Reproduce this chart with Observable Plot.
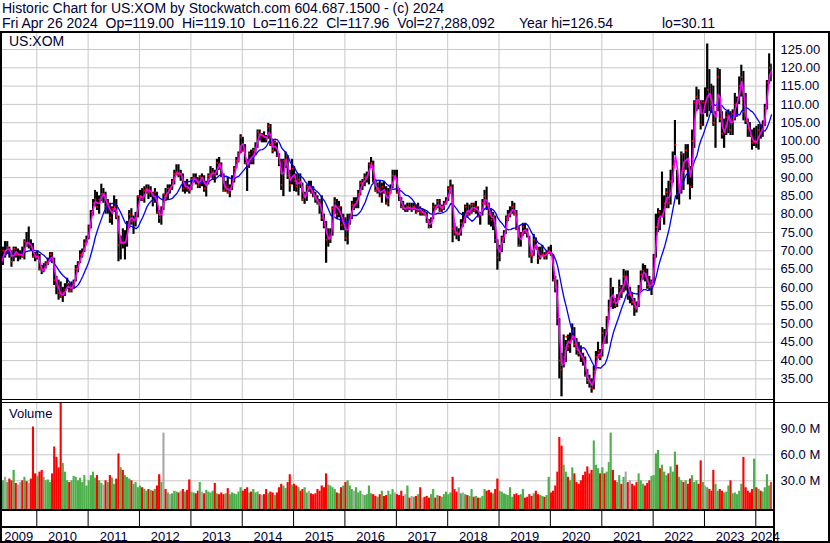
<!DOCTYPE html>
<html><head><meta charset="utf-8">
<script src="https://cdn.jsdelivr.net/npm/d3@7"></script>
<script src="https://cdn.jsdelivr.net/npm/@observablehq/plot@0.6"></script>
<style>
body{margin:0;background:#fff;font-family:"Liberation Sans",Arial,sans-serif;}
#wrap{position:relative;width:830px;height:543px;overflow:hidden;background:#fff}
.t{position:absolute;font-size:14px;color:#000033;white-space:pre;line-height:15px}
.ln{position:absolute;background:#000;z-index:5}
.p{position:absolute;left:0}
</style></head><body><div id="wrap"></div><script>
// Half-month periods (1st-15th, 16th-end), from 2009-04-16 to 2024-04-26
const firstPeriod = "2009-04-16";
const lastDay = "2024-04-26";
const hi = [
 69,71,72.5,72.5,71,70,71,71,70.5,70,71,73,75,76.5,73,72,69.5,
 70,69,66,66.5,67,68,69.5,69.5,68,63,62,61.5,60,61,62.5,61,61.5,62,66,67,70,70.5,73,74,
 77,81,84,86.5,86,85,88.2,87,86,84,83,82,85,84,79.5,74,76,75.5,78,81,81.5,79.5,80.5,85,
 86.5,87,87.5,88,88,87.5,86,87,86,81,82,85.5,87,88,88,89.5,92,93.5,93.5,92,91,89,89.5,88,
 90,91,91,90,90.5,91,90.5,89,91,93,92.5,92,95,95.5,94,91,89,90,88,90.5,93,95.5,97,101.7,
 101,99,95,97,97.5,98,99.5,103,103,102,102.5,101.5,104.8,104.5,100.5,100,99.5,96.5,95,95,97,96,92,95,
 93,91,91,91,88.5,86,88,89,89,87.5,86,85,84,85,80,78,76,76,82,84.5,84,83.5,82,80,
 79,80,80,83.5,84.5,84.5,86.5,89,89.5,91,91.5,94,95.5,94.5,89.5,88.5,89,88.5,89,87.5,87,88,92,92,
 92,87,84.5,83.5,82.5,83,83,83,83,82.5,83,82,81.5,81,80.5,78.5,79,83,82.5,84,84,82.5,83.5,84.5,
 87.5,89.3,88,77.5,76.5,76,78.5,80.5,82.5,83,82.5,83,83,83.5,82,80.5,84,86.5,87.4,83,81.5,80.5,79.5,73,
 71.5,74,75.5,79.5,81,82,83.5,83,81,76.5,75,77.5,77.5,76,74,70,74.5,73.5,71,71,71.5,69.5,70,71,
 71.5,69,63,62,51.5,42,47,45.5,47,47.5,50,49,46,45,44,42,41,37.5,36,35,38.5,42.5,45,43,
 49,48.5,52,56.5,62.5,60,57,58,62,60.5,64.9,64.5,64.5,60,58.5,57,56,60.5,64.5,66.4,66,65,63,62,
 69,80,81.5,81,91.5,85,87,89,92,97,105.6,92,88,97,96.5,99,99,93,103,111,114.7,114,111,111,
 114.5,126.5,119.5,115.5,115,108,119.9,119.5,108,106,108,108.5,108,108.5,113,112,117.5,120.7,119,113,106,105,103,103.5,
 104,104.5,104.5,105.5,110,116.5,123.8,121
];
const lo = [
 64.5,66,68,69,68,65.5,67,68,67,67.5,68,67.5,71,70.5,70,68,67,
 67.5,64.5,63.5,64,65,66,67,66.5,60.5,58,56.5,57,55.9,57.5,59.5,58.5,58.5,59.5,61.5,64,66.5,68,69.5,72,
 73,76,79.5,82,81,80,83.5,83,80,80,77.5,77,80.5,78.5,67,67.5,70.5,67.5,71,76,77,74.5,76.5,79,
 83.5,83.5,83,85.5,84,84.5,82,83,80,77.5,77,81,83.5,84,85.5,86.5,88,90.5,90,89,86,85.5,86,85.5,
 86.5,88.5,88,87,87,87.5,86,84.7,88,90,89.5,88.5,90.5,92,90,86,86,85.5,84.5,86.5,88.5,92.5,94,96.5,
 97,93.5,86.2,92.5,93.5,93.5,96,98,100,99.5,99.5,99.5,100.5,98.5,96.5,97,95.5,93,86.5,84.8,92.5,89.5,86,88,
 86.2,86,85,87,83.5,82.7,83.5,86,85.5,84.5,83,82.5,80,78,76,66.6,71,72,74,80,78.5,79,75.5,75.5,
 72.5,71.6,77,78.5,81,81.5,81.5,85,86.5,87.5,88.5,88,92.5,88.5,86,85.5,84.5,83,85.5,82.5,82,85.5,87,89.5,
 85.5,83.5,81.5,81,80.5,80.5,81,80.5,81,80,80.5,79.5,79.5,79.5,77.5,76,76.1,78.5,81,81.5,80.5,80.5,81,82.5,
 83.5,85.5,72.2,74,73,72.5,74,76.5,77.5,79,79.5,80,80.5,80,79,77,79.5,82.5,81,77,76.5,75.5,72,64.7,
 67,69.5,72,74.5,78,79,80,79.5,75.5,71,71,74,74.5,73.5,68,66.5,68.5,70.5,66.3,67.5,68.5,67.5,67.5,69,
 68.5,61.5,58.5,49.5,35,30.1,38,39.5,42.5,42,45.5,43.5,41.5,41,39.5,38.5,35.5,33.5,32.5,31.1,32,37.5,40.5,40,
 41,44.5,44.5,51,54.5,54,54.2,54.5,56.5,57,58.5,59,56.5,55.5,55,52.1,53,54.5,59,62,61.5,59.5,59,57.8,
 61,68,75,75.5,79,77,81.5,81.5,82.5,88.5,96,83.9,82.5,85.5,86.5,92,88,83.9,87,98,108,108.5,103,104,
 107.5,106.5,108,107.5,104,98,108,105,100.5,98,101.5,102,101.5,101.5,105.5,106.5,110,112,105.5,104.5,101,101,97.5,98.5,
 98,97.5,100.5,101,104,108.5,115.5,116.2
];
const cl = [
 66.7,70,70,71,70,67,70.5,69,69,69,68.5,72.5,72,72,71,68.5,68.2,
 68.5,65,64.5,65,66.5,67,69,67.5,62,60.5,58.5,57.5,58.5,59.5,61,59,60.5,61.5,65,66.5,69,69.5,72,73,
 76.5,80.5,83,84,82,84,85.5,85.5,82,83,79,81.5,82,79.5,71.5,72.5,72,72.5,77,80,78,78.5,79,84.8,
 85,84,86.5,87,86,86.5,83.5,86,80.5,79,81,85.5,85,87,87,89,91,91.5,91,91,87,88,87,86.5,
 89.5,90,89,88,90,90,87,88.5,90.5,91,91.5,90.5,94,93.5,90.5,86.5,87.5,86,87,89.5,92.5,94.5,96.5,101,
 97.5,94,93,96.5,94.5,97.5,98,102.5,101.5,101.5,101,100.5,104,99,97.5,99.5,96,94,88,94.5,95,90.5,88,92.5,
 89,87.5,89.5,88.5,84,85,87.5,87.5,86,85,84,83,82.5,79,77,73,73.5,74,81.5,83.5,80,82,77,78,
 73.5,78,79.5,82.5,82.5,83.5,85.5,88.5,88.5,90,90.5,93.5,94,89,86.5,87,85,87.5,86,83,86,87,90.5,90.5,
 86,84,82,81.5,81.5,82,81.5,81.5,82,80.5,82,80.5,80.5,80,78,76.5,78.5,82,81.5,83.5,81,82,83,83.5,
 87,87.5,76,75,74.5,74.5,77.5,77.5,82,80,81,82.5,81,82,79.5,80,83,85,82.5,80,78.5,79.5,73,68.2,
 71,73.5,74.5,79,80,80.5,82,80,76,71.5,74.5,76.5,75,74.5,69,68.5,73,70.5,68,68.5,69,68.5,69.5,70,
 69,62,60,51.5,40,37.5,41,46.5,44,45.5,48,44.5,43,42,41,40,36,34.5,34,32.5,37,41,42.5,41,
 47.5,45,51.5,54.5,60,56,55,57,60,58.5,63,63,58,58,56,54.5,54,59.5,63.5,64.5,63,60.5,60,61.5,
 68.5,76.5,80.5,78.5,80,83,86,83,89,93,99,85.6,86,96.5,92,97.5,93,87.5,100,110.5,112,110.5,104.5,110.5,
 110.5,114,112,110,105,108,117.5,106,102,102.5,106.5,107,103,107.5,110,111.5,115,117.5,108,105.5,103.5,101.5,99.5,100,
 99.5,103,102,104.5,109,116,120,118
];
// volume, millions of shares (peak daily volume in each half-month)
const vol = [
 36,30,34,28,32,30,42,27,25,28,30,34,29,27,32,92,38,
 35,40,42,34,30,31,28,38,69,57,45,120,50,40,30,28,30,35,34,30,33,28,36,24,
 30,36,40,33,36,30,27,25,30,28,36,33,26,32,61,45,42,36,34,32,30,26,28,22,
 24,22,20,18,20,19,18,20,24,37,28,85,20,16,14,15,18,17,16,18,20,17,19,31,
 17,16,15,18,28,17,15,19,17,16,18,27,15,14,16,14,15,21,14,16,15,14,17,22,
 18,20,22,16,17,20,16,17,14,13,14,20,15,17,16,13,16,22,26,24,21,28,37,25,
 26,24,22,18,20,22,16,18,15,14,15,20,18,24,22,38,25,24,22,20,16,15,22,24,
 28,30,24,20,18,22,16,18,14,13,14,24,15,14,12,11,14,18,12,13,18,14,20,16,
 14,13,18,12,14,24,10,12,11,12,14,22,10,11,12,10,14,20,10,13,12,11,14,17,
 14,16,34,20,17,22,15,16,14,13,12,20,11,12,10,10,12,20,18,19,16,15,20,32,
 18,17,15,14,13,22,11,14,15,13,14,20,10,11,14,12,15,18,14,13,12,11,13,34,
 16,18,24,40,80,70,48,40,34,30,45,38,28,26,30,36,40,46,38,42,76,48,44,38,
 45,38,40,51,85,42,30,28,36,26,34,40,28,30,26,24,28,38,30,26,24,27,30,35,
 36,61,65,44,48,40,36,38,46,40,63,48,34,30,28,30,26,32,36,28,30,26,53,28,
 24,22,20,18,42,26,18,20,18,16,17,24,30,15,16,14,18,26,57,22,18,16,20,55,
 22,20,18,17,22,37,24,28
];
const flatPeriods = ["2012-06-16"];
const priceTicks = [35,40,45,50,55,60,65,70,75,80,85,90,95,100,105,110,115,120,125];
const volTicks = [30,60,90];
const yearLabels = [2009,2010,2011,2012,2013,2014,2015,2016,2017,2018,2019,2020,2021,2022,2023,2024];
const titleLine1 = "Historic Chart for US:XOM by Stockwatch.com 604.687.1500 - (c) 2024";
const titleLine2 = ["Fri Apr 26 2024  Op=119.00  Hi=119.10  Lo=116.22  Cl=117.96  Vol=27,288,092", "Year hi=126.54", "lo=30.11"];
const symbol = "US:XOM";

const xDomain = [new Date(Date.UTC(2009,3,18)), new Date(Date.UTC(2024,4,13))];
const priceDomain = [29.1, 129.64];
const volDomain = [-3.1, 120.3];

const startD = new Date(firstPeriod + "T00:00:00Z");
const rows = hi.map((h, i) => {
  const k = i + 1;
  const date = new Date(Date.UTC(startD.getUTCFullYear(), 3 + Math.floor(k / 2), k % 2 ? 16 : 1));
  return {date, hi: h, lo: lo[i], cl: cl[i], vol: vol[i]};
});
const endD = new Date(Date.UTC(2024,3,27));
rows.forEach((r, i) => {
  r.date2 = i < rows.length - 1 ? rows[i+1].date : endD;
  r.mid = new Date((+r.date + +r.date2) / 2);
  const iso = r.date.toISOString().slice(0,10);
  const d = i === 0 ? 1 : Math.sign(r.cl - rows[i-1].cl);
  r.color = flatPeriods.includes(iso) || d === 0 ? "#a8a8a8" : d > 0 ? "#4caf4a" : "#ff0000";
});
const years = yearLabels.slice(1).map(y => new Date(Date.UTC(y,0,1)));
const yearRows = yearLabels.map(y => {
  const a = Math.max(Date.UTC(y,0,1), +xDomain[0]);
  const b = Math.min(Date.UTC(y+1,0,1), +xDomain[1]);
  return {mid: new Date((a + b) / 2), label: String(y)};
});

const font = "'Liberation Sans', Arial, sans-serif";
const common = {width: 830, marginLeft: 0, marginRight: 56, marginTop: 0, marginBottom: 0,
  style: {background: "transparent", fontFamily: font, fontSize: "13px", color: "#000033", overflow: "visible"}};
const grid = "#c8c8c8";

const price = Plot.plot({...common, height: 368,
  x: {type: "utc", domain: xDomain, axis: null},
  y: {domain: priceDomain, axis: "right", ticks: priceTicks, tickFormat: d => d.toFixed(2), tickSize: 0, tickPadding: 6, label: null},
  marks: [
    Plot.ruleY(priceTicks, {stroke: grid}),
    Plot.ruleX(years, {stroke: grid}),
    Plot.rect(rows, {x1: "date", x2: "date2", y1: "lo", y2: "hi", fill: "#000", clip: true}),
    Plot.dot(rows, {x: "mid", y: "cl", r: 1, fill: "#ff0000", stroke: null, clip: true}),
    Plot.lineY(rows, Plot.windowY({k: 10, anchor: "end"}, {x: "mid", y: "cl", stroke: "#0000ff", strokeWidth: 1.3, clip: true})),
    Plot.lineY(rows, Plot.windowY({k: 2, anchor: "end"}, {x: "mid", y: "cl", stroke: "#ff00ff", strokeWidth: 1.6, clip: true}))
  ]
});
const volume = Plot.plot({...common, height: 107,
  x: {type: "utc", domain: xDomain, axis: null},
  y: {domain: volDomain, axis: "right", ticks: volTicks, tickFormat: d => d.toFixed(1) + " M", tickSize: 0, tickPadding: 6, label: null},
  color: {type: "identity"},
  marks: [
    Plot.ruleY(volTicks, {stroke: grid}),
    Plot.ruleX(years, {stroke: grid}),
    Plot.rect(rows, {x1: "date", x2: "date2", y1: volDomain[0], y2: "vol", fill: "color", clip: true})
  ]
});
const axisRow = Plot.plot({...common, height: 33,
  x: {type: "utc", domain: xDomain, axis: null},
  marks: [
    Plot.ruleX(years, {stroke: "#000", insetBottom: 16}),
    Plot.text(yearRows, {x: "mid", text: "label", frameAnchor: "bottom", lineAnchor: "bottom", dy: -3, fontSize: 13, fill: "#000033"})
  ]
});

const wrap = document.getElementById("wrap");
function place(el, top) { const d = document.createElement("div"); d.className = "p"; d.style.top = top + "px"; d.appendChild(el); wrap.appendChild(d); }
place(price, 32);
place(volume, 402);
place(axisRow, 510);
function text(str, left, top, size) { const d = document.createElement("div"); d.className = "t"; d.textContent = str; d.style.left = left + "px"; d.style.top = top + "px"; if (size) d.style.fontSize = size + "px"; wrap.appendChild(d); }
text(titleLine1, 2, 1);
text(titleLine2[0], 2, 16);
text(titleLine2[1], 519, 16);
text(titleLine2[2], 662, 16);
text(symbol, 9, 34);
text("Volume", 9, 406, 13);
function line(l, t, w, h) { const d = document.createElement("div"); d.className = "ln"; Object.assign(d.style, {left: l + "px", top: t + "px", width: w + "px", height: h + "px"}); wrap.appendChild(d); }
line(0, 31, 830, 2);
line(0, 31, 2, 512);
line(828, 31, 2, 512);
line(0, 541, 830, 2);
line(773, 31, 2, 512);
line(0, 399, 775, 1);
line(0, 402, 830, 1);
line(0, 509, 775, 2);
line(0, 526, 775, 2);
</script></body></html>
